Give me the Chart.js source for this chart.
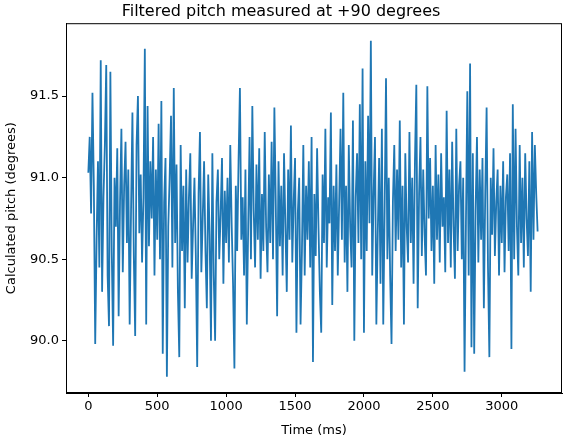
<!DOCTYPE html>
<html><head><meta charset="utf-8">
<script src="https://cdn.jsdelivr.net/npm/chart.js@4"></script>
<style>html,body{margin:0;padding:0;background:#fff}</style>
</head><body>
<canvas id="c" width="575" height="442"></canvas>
<script>
const sampleStepMs = 10;
const pitchValues = [
91.03,91.25,90.78,91.52,90.95,89.98,90.62,91.10,90.45,91.72,90.30,90.88,91.20,91.69,90.40,90.09,91.65,90.55,89.97,91.00,
90.70,91.18,90.15,90.85,91.30,90.42,90.95,91.22,90.60,91.05,90.10,90.80,91.40,90.52,90.03,91.20,91.50,90.66,91.02,90.48,
90.88,91.79,90.10,91.44,90.58,91.10,90.75,91.25,90.40,91.05,90.62,91.33,90.50,91.47,89.92,90.85,91.12,89.78,90.70,91.00,
91.38,90.45,91.55,90.60,91.08,90.30,89.90,91.20,90.55,90.95,90.20,91.05,90.48,90.88,91.15,90.38,90.70,91.00,90.52,89.84,
90.90,91.28,90.42,90.75,91.10,90.55,90.20,91.02,90.65,90.00,91.15,90.40,90.00,90.85,91.05,90.50,90.78,91.12,90.35,90.92,
90.60,91.00,90.48,91.20,90.72,90.35,89.83,90.95,90.55,91.10,91.55,90.62,90.88,90.40,91.05,90.10,90.70,91.25,90.50,91.44,
90.80,90.45,91.08,90.62,91.18,90.38,90.90,90.55,91.28,90.70,90.42,91.02,90.60,91.22,90.50,91.43,90.85,90.15,91.10,90.58,
90.95,90.40,91.15,90.70,90.30,91.05,90.62,91.32,90.48,90.85,91.12,90.05,90.78,91.00,90.10,90.55,91.20,90.40,90.95,90.62,
91.10,90.45,91.25,89.87,90.90,90.52,91.18,90.70,90.30,90.05,91.02,90.60,91.30,90.45,90.88,90.72,91.40,90.22,90.95,90.55,
91.08,90.40,90.85,91.30,90.62,91.52,90.48,90.95,90.30,91.20,90.70,90.45,91.35,90.00,90.88,91.15,90.60,91.45,90.50,91.67,
90.05,91.10,90.55,91.38,90.72,91.84,90.40,90.90,91.25,90.10,90.65,91.12,90.35,91.30,90.10,90.80,91.61,90.50,91.00,90.40,
89.98,90.85,91.20,90.55,91.05,90.62,91.35,90.45,90.95,90.10,91.15,90.70,90.48,91.28,90.60,91.00,90.35,91.10,91.57,90.20,
90.90,91.25,90.52,91.05,90.65,90.40,91.56,90.75,91.12,90.55,90.95,90.35,91.20,90.62,91.02,90.48,91.15,90.70,90.88,90.42,
91.41,90.60,91.05,90.45,91.22,90.70,90.38,91.30,90.55,90.95,91.10,90.50,91.00,89.81,90.72,91.53,90.40,91.70,89.96,91.15,
89.92,90.80,91.25,90.48,91.05,90.62,91.12,90.20,90.90,91.43,90.45,89.90,91.00,90.65,91.18,90.52,90.85,91.05,90.40,90.95,
90.60,91.10,90.42,90.88,91.02,90.55,91.15,89.95,91.45,90.50,91.30,90.70,90.40,91.20,90.60,91.00,90.45,91.15,90.75,90.52,
91.10,90.30,91.28,90.62,91.20,90.90,90.67
];
const xTicks = [0,500,1000,1500,2000,2500,3000];
const yTicks = [90.0,90.5,91.0,91.5];

const pts = pitchValues.map((v,i)=>({x:i*sampleStepMs,y:v}));
const font = {family:'"DejaVu Sans", sans-serif', size:13};
new Chart(document.getElementById('c'), {
  type:'line',
  data:{datasets:[{data:pts, borderColor:'#1f77b4', borderWidth:1.8, pointRadius:0, tension:0, fill:false}]},
  options:{
    responsive:false, devicePixelRatio:1, animation:false,
    layout:{padding:{left:0,right:13,top:0,bottom:0}},
    plugins:{legend:{display:false}, tooltip:{enabled:false},
      title:{display:true, text:'Filtered pitch measured at +90 degrees', color:'#000',
        font:{family:'"DejaVu Sans", sans-serif', size:16, weight:'normal'}, padding:{top:2,bottom:2}}},
    scales:{
      x:{type:'linear', min:-162, max:3437,
        afterBuildTicks:s=>{s.ticks=xTicks.map(v=>({value:v}));},
        afterFit:s=>{s.height=49;},
        ticks:{color:'#000', font, padding:2, maxRotation:0, callback:v=>String(v)},
        grid:{drawOnChartArea:false, drawTicks:true, tickLength:4, color:'#000'},
        border:{color:'#000', width:1},
        title:{display:true, text:'Time (ms)', color:'#000', font, padding:{top:0}}},
      y:{min:89.68, max:91.947,
        afterBuildTicks:s=>{s.ticks=yTicks.map(v=>({value:v}));},
        afterFit:s=>{s.width=66;},
        ticks:{color:'#000', font, padding:3, callback:v=>Number(v).toFixed(1)},
        grid:{drawOnChartArea:false, drawTicks:true, tickLength:4, color:'#000'},
        border:{color:'#000', width:1},
        title:{display:true, text:'Calculated pitch (degrees)', color:'#000', font, padding:{bottom:2}}}
    }
  },
  plugins:[{id:'frame', afterDraw(c){const a=c.chartArea,x=c.ctx;x.save();x.strokeStyle='#000';x.lineWidth=1;x.strokeRect(a.left+0.5,a.top+0.5,a.right-a.left-1,a.bottom-a.top-1);x.restore();}}]
});
</script>
</body></html>
